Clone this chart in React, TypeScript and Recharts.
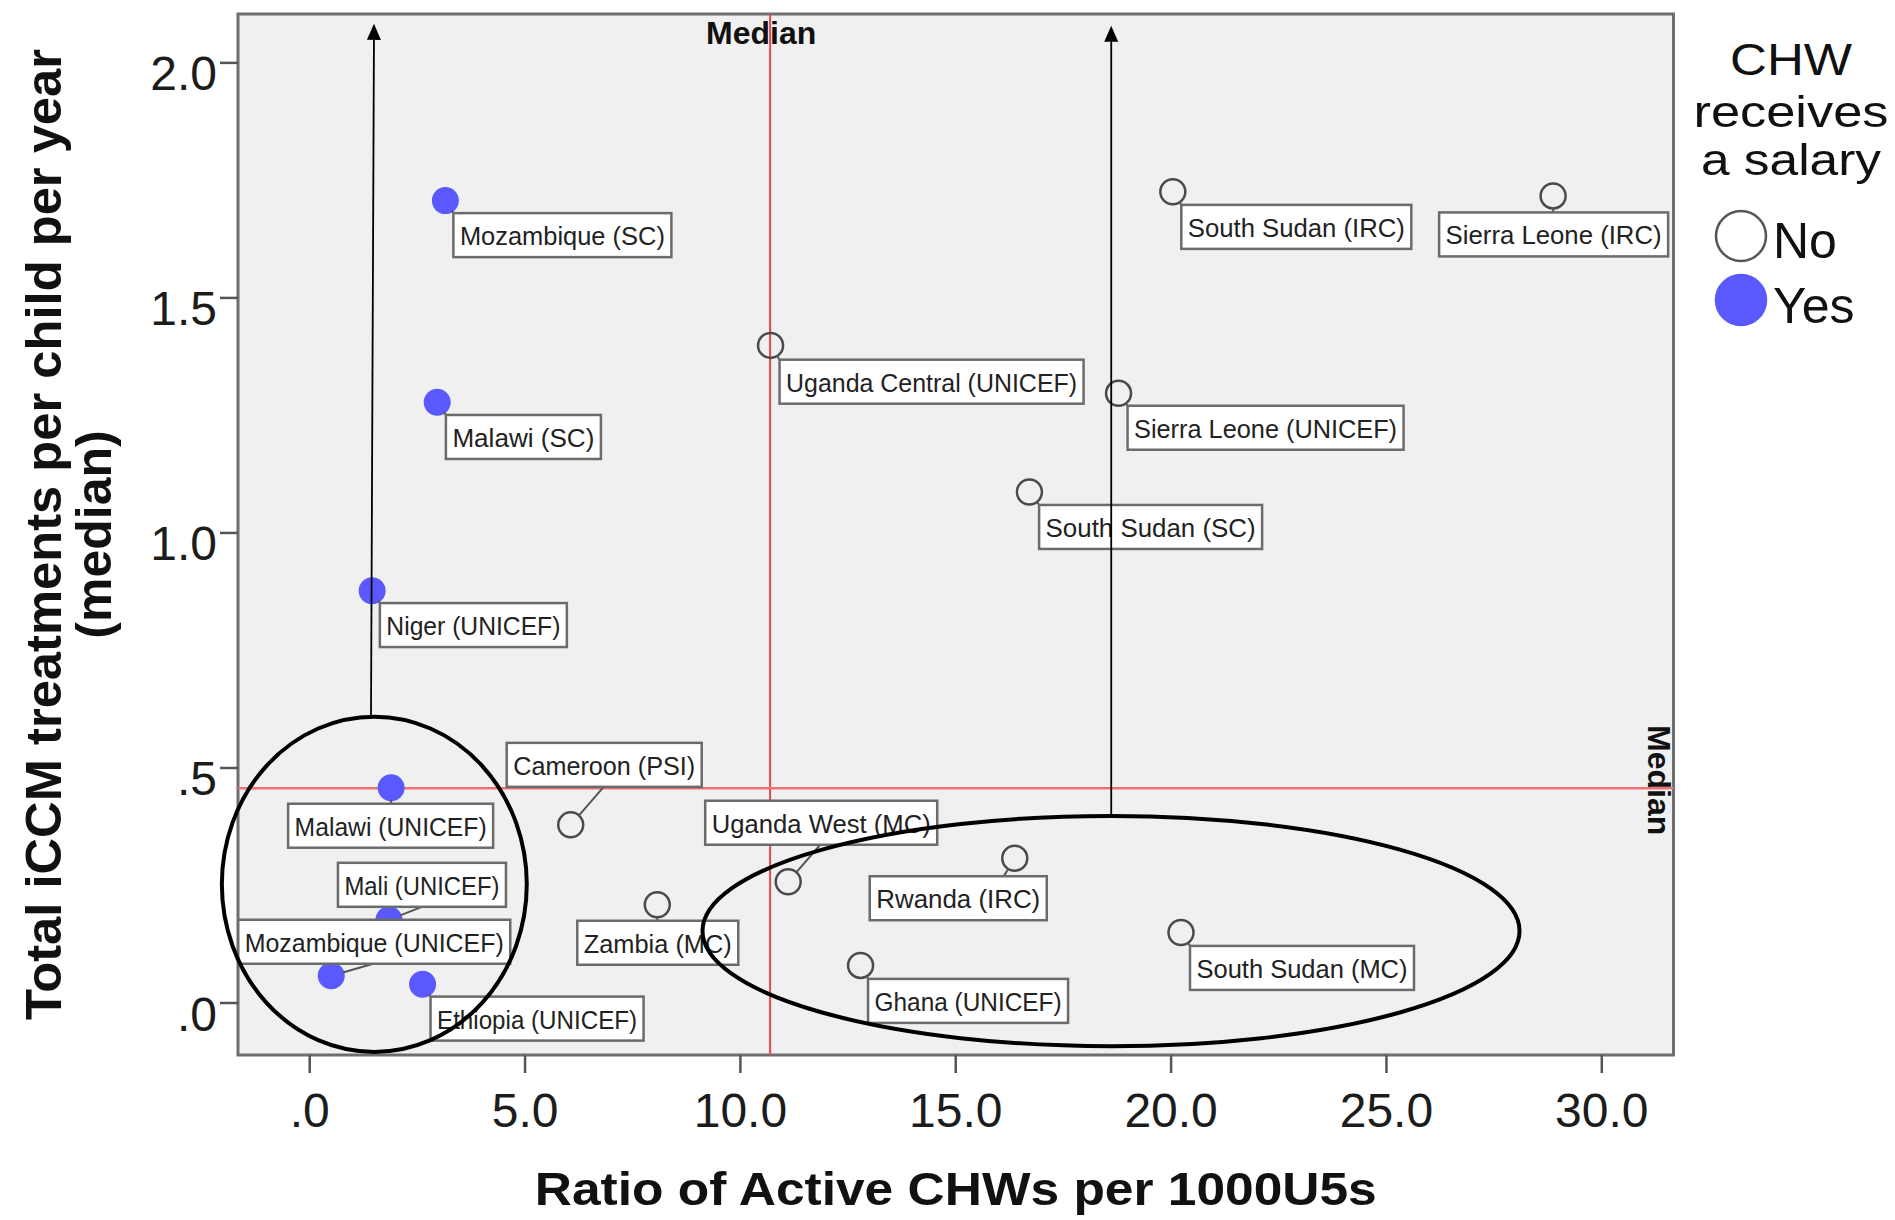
import React from "react";
import {
  CartesianGrid,
  Legend,
  ReferenceArea,
  ReferenceLine,
  Scatter,
  ScatterChart,
  XAxis,
  YAxis,
} from "recharts";

const FONT = '"Liberation Sans", Arial, Helvetica, sans-serif';

// programme = country + implementing partner
const programmes = [
  "Mozambique (SC)",
  "Malawi (SC)",
  "Niger (UNICEF)",
  "Malawi (UNICEF)",
  "Mali (UNICEF)",
  "Mozambique (UNICEF)",
  "Ethiopia (UNICEF)",
  "Cameroon (PSI)",
  "Zambia (MC)",
  "Uganda West (MC)",
  "Ghana (UNICEF)",
  "Rwanda (IRC)",
  "South Sudan (MC)",
  "Uganda Central (UNICEF)",
  "Sierra Leone (UNICEF)",
  "South Sudan (SC)",
  "South Sudan (IRC)",
  "Sierra Leone (IRC)",
];
const activeChwsPer1000U5 = [
  3.15, 2.96, 1.45, 1.89, 1.84, 0.5, 2.62, 6.06, 8.07, 11.11, 12.79, 16.37,
  20.23, 10.7, 18.78, 16.71, 20.04, 28.87,
];
const treatmentsPerChild = [
  1.707, 1.278, 0.877, 0.458, 0.177, 0.058, 0.04, 0.379, 0.209, 0.258, 0.08,
  0.308, 0.15, 1.399, 1.297, 1.087, 1.726, 1.717,
];
const receivesSalary = [
  true, true, true, true, true, true, true, false, false, false, false, false,
  false, false, false, false, false, false,
];

const medianRatio = 10.69;
const medianTreatments = 0.457;

const xTicks = [0, 5, 10, 15, 20, 25, 30];
const yTicks = [0, 0.5, 1, 1.5, 2];
const xDomain = [-1.665, 31.665];
const yDomain = [-0.1106, 2.104];

const legendTitle = ["CHW", "receives", "a salary"];

// hand-drawn annotations, in data units
const lowRatioCluster = { x1: -2.04, x2: 5.04, y1: -0.104, y2: 0.609 };
const highRatioCluster = { x1: 9.12, x2: 28.09, y1: -0.092, y2: 0.398 };
const lowRatioArrow = [
  { x: 1.423, y: 0.609 },
  { x: 1.493, y: 2.083 },
];
const highRatioArrow = [
  { x: 18.61, y: 0.398 },
  { x: 18.61, y: 2.079 },
];

// label box placement relative to its point (px): box offset, width, leader end
const labelLayout: Record<string, any> = {
  "Mozambique (SC)": { dx: 8, dy: 12.5, w: 218 },
  "Malawi (SC)": { dx: 8.7, dy: 12.7, w: 155 },
  "Niger (UNICEF)": { dx: 7.7, dy: 12.3, w: 187 },
  "Malawi (UNICEF)": { dx: -103, dy: 16, w: 205, ax: 0, ay: 16 },
  "Mali (UNICEF)": { dx: -51, dy: -57, w: 168, ax: 33, ay: -13 },
  "Mozambique (UNICEF)": { dx: -93, dy: -56, w: 272, ax: 42, ay: -12 },
  "Ethiopia (UNICEF)": { dx: 8, dy: 12.4, w: 213 },
  "Cameroon (PSI)": { dx: -64, dy: -82, w: 195, ax: 33, ay: -38 },
  "Zambia (MC)": { dx: -80, dy: 16, w: 161, ax: 0, ay: 16 },
  "Uganda West (MC)": { dx: -83, dy: -81, w: 232, ax: 32, ay: -37 },
  "Ghana (UNICEF)": { dx: 7.5, dy: 13.5, w: 200 },
  "Rwanda (IRC)": { dx: -145, dy: 18, w: 177, ax: -11, ay: 18 },
  "South Sudan (MC)": { dx: 9, dy: 13.4, w: 224 },
  "Uganda Central (UNICEF)": { dx: 9, dy: 14.3, w: 304 },
  "Sierra Leone (UNICEF)": { dx: 9, dy: 12.4, w: 276 },
  "South Sudan (SC)": { dx: 9.7, dy: 12.9, w: 223 },
  "South Sudan (IRC)": { dx: 8.5, dy: 13.2, w: 230 },
  "Sierra Leone (IRC)": { dx: -114, dy: 16.5, w: 229, ax: 0, ay: 16.5 },
};

const BLUE = "#5959ff";

const points = programmes.map((name, i) => ({
  name,
  x: activeChwsPer1000U5[i],
  y: treatmentsPerChild[i],
  salary: receivesSalary[i],
}));
const unpaid = points.filter((p) => !p.salary);
const paid = points.filter((p) => p.salary);

const fmt = (v: number) => v.toFixed(1).replace(/^0\./, ".");

const OpenCircle = (p: any) => (
  <circle cx={p.cx} cy={p.cy} r={12.5} fill="none" stroke="#4a4a4a" strokeWidth={2.5} />
);
const FilledCircle = (p: any) => <circle cx={p.cx} cy={p.cy} r={13.5} fill={BLUE} />;

const ProgrammeLabel = (p: any) => {
  const { cx, cy, payload } = p;
  const L = labelLayout[payload?.name];
  if (!L || cx == null) return <g />;
  const bx = cx + L.dx;
  const by = cy + L.dy;
  const ax = cx + (L.ax ?? L.dx);
  const ay = cy + (L.ay ?? L.dy);
  const len = Math.hypot(ax - cx, ay - cy);
  const r = 12;
  const sx = cx + ((ax - cx) / len) * r;
  const sy = cy + ((ay - cy) / len) * r;
  return (
    <g>
      {len > r && <line x1={sx} y1={sy} x2={ax} y2={ay} stroke="#555" strokeWidth={2} />}
      <rect x={bx} y={by} width={L.w} height={44} fill="#fff" stroke="#6b6b6b" strokeWidth={2.5} />
      <text
        x={bx + 6.5}
        y={by + 32}
        fontSize={26}
        fontFamily={FONT}
        fill="#222"
        textLength={L.w - 13}
        lengthAdjust="spacingAndGlyphs"
      >
        {payload.name}
      </text>
    </g>
  );
};

const EllipseShape = (p: any) => (
  <ellipse
    cx={p.x + p.width / 2}
    cy={p.y + p.height / 2}
    rx={Math.abs(p.width) / 2}
    ry={Math.abs(p.height) / 2}
    fill="none"
    stroke="#000"
    strokeWidth={4}
  />
);

const ArrowShape = (p: any) => {
  let { x1, y1, x2, y2 } = p;
  if (y1 < y2) {
    [x1, y1, x2, y2] = [x2, y2, x1, y1];
  }
  const len = Math.hypot(x2 - x1, y2 - y1) || 1;
  const ux = (x2 - x1) / len;
  const uy = (y2 - y1) / len;
  const bx = x2 - ux * 16;
  const by = y2 - uy * 16;
  const nx = -uy * 7;
  const ny = ux * 7;
  return (
    <g>
      <line x1={x1} y1={y1} x2={bx} y2={by} stroke="#000" strokeWidth={1.8} />
      <polygon points={`${x2},${y2} ${bx + nx},${by + ny} ${bx - nx},${by - ny}`} fill="#000" />
    </g>
  );
};

const XTick = (p: any) => (
  <text x={p.x} y={p.y + 52} textAnchor="middle" fontSize={48} fontFamily={FONT} fill="#1c1c1c">
    {fmt(p.payload.value)}
  </text>
);
const YTick = (p: any) => (
  <text x={p.x - 1} y={p.y + 27.5} textAnchor="end" fontSize={48} fontFamily={FONT} fill="#1c1c1c">
    {fmt(p.payload.value)}
  </text>
);

const XTitle = (p: any) => {
  const vb = p.viewBox;
  return (
    <text
      x={vb.x + vb.width / 2}
      y={vb.y + 150}
      textAnchor="middle"
      fontSize={46}
      fontWeight="bold"
      fontFamily={FONT}
      fill="#111"
      textLength={842}
      lengthAdjust="spacingAndGlyphs"
    >
      Ratio of Active CHWs per 1000U5s
    </text>
  );
};

const YTitle = (p: any) => {
  const vb = p.viewBox;
  const cy = vb.y + vb.height / 2;
  return (
    <g fontFamily={FONT} fontWeight="bold" fontSize={50} fill="#111">
      <text x={61} y={cy} textAnchor="middle" transform={`rotate(-90, 61, ${cy})`} textLength={971} lengthAdjust="spacingAndGlyphs">
        Total iCCM treatments per child per year
      </text>
      <text x={111} y={cy} textAnchor="middle" transform={`rotate(-90, 111, ${cy})`}>
        (median)
      </text>
    </g>
  );
};

const MedianTop = (p: any) => {
  const vb = p.viewBox;
  const top = Math.min(vb.y, vb.y + (vb.height || 0));
  return (
    <text x={vb.x - 9} y={top + 30} textAnchor="middle" fontSize={32} fontWeight="bold" fontFamily={FONT} fill="#111">
      Median
    </text>
  );
};

const MedianRight = (p: any) => {
  const vb = p.viewBox;
  const right = Math.max(vb.x, vb.x + (vb.width || 0));
  const x = right - 26;
  const y = vb.y - 8;
  return (
    <text
      x={x}
      y={y}
      textAnchor="middle"
      transform={`rotate(90, ${x}, ${y})`}
      fontSize={32}
      fontWeight="bold"
      fontFamily={FONT}
      fill="#111"
    >
      Median
    </text>
  );
};

const titleWidths = [122, 195, 180];
const titleBaselines = [75, 127, 175];

const SalaryLegend = (props: any) => {
  const items = (props.payload || []).filter((e: any) => e.type !== "none");
  return (
    <svg width={215} height={360} style={{ display: "block" }} fontFamily={FONT}>
      {legendTitle.map((line, i) => (
        <text
          key={line}
          x={111}
          y={titleBaselines[i]}
          textAnchor="middle"
          fontSize={45}
          fill="#111"
          textLength={titleWidths[i]}
          lengthAdjust="spacingAndGlyphs"
        >
          {line}
        </text>
      ))}
      {items.map((e: any, i: number) => (
        <g key={e.value}>
          <circle
            cx={61}
            cy={236 + i * 64}
            r={25}
            fill={e.value === "Yes" ? BLUE : "#fff"}
            stroke={e.value === "Yes" ? BLUE : "#555"}
            strokeWidth={2.5}
          />
          <text x={93} y={258 + i * 65} fontSize={50} fill="#111">
            {e.value}
          </text>
        </g>
      ))}
    </svg>
  );
};

export default function App() {
  return (
    <div style={{ position: "absolute", left: 0, top: 0, width: 1895, height: 1220, background: "#fff", fontFamily: FONT }}>
      <ScatterChart width={1895} height={1220} margin={{ top: 14, right: 221.5, bottom: 65, left: 0 }}>
        <CartesianGrid horizontal={false} vertical={false} fill="#f0f0f0" />
        <XAxis
          type="number"
          dataKey="x"
          domain={xDomain}
          allowDataOverflow
          ticks={xTicks}
          height={100}
          tickSize={18}
          tickMargin={2}
          axisLine={false}
          tickLine={{ stroke: "#555", strokeWidth: 2.5 }}
          tick={<XTick />}
          label={XTitle}
        />
        <YAxis
          type="number"
          dataKey="y"
          domain={yDomain}
          allowDataOverflow
          ticks={yTicks}
          width={238}
          tickSize={18}
          tickMargin={2}
          axisLine={false}
          tickLine={{ stroke: "#555", strokeWidth: 2.5 }}
          tick={<YTick />}
          label={YTitle}
        />
        <ReferenceArea
          x1={xDomain[0]}
          x2={xDomain[1]}
          y1={yDomain[0]}
          y2={yDomain[1]}
          fill="none"
          stroke="#6e6e6e"
          strokeWidth={3}
          ifOverflow="visible"
          zIndex={-50}
        />
        <ReferenceLine x={medianRatio} stroke="#e4474c" strokeWidth={2} label={MedianTop} zIndex={50} />
        <ReferenceLine y={medianTreatments} stroke="#ee7272" strokeWidth={2.5} label={MedianRight} zIndex={50} />
        <Scatter name="No" data={unpaid} fill="#ffffff" shape={OpenCircle} isAnimationActive={false} />
        <Scatter name="Yes" data={paid} fill={BLUE} shape={FilledCircle} isAnimationActive={false} />
        <Scatter
          name="labels"
          data={points}
          legendType="none"
          shape={ProgrammeLabel}
          isAnimationActive={false}
          zIndex={650}
        />
        <ReferenceArea {...lowRatioCluster} ifOverflow="visible" shape={EllipseShape} zIndex={900} />
        <ReferenceArea {...highRatioCluster} ifOverflow="visible" shape={EllipseShape} zIndex={900} />
        <ReferenceLine segment={lowRatioArrow} shape={ArrowShape} zIndex={900} />
        <ReferenceLine segment={highRatioArrow} shape={ArrowShape} zIndex={900} />
        <Legend
          layout="vertical"
          align="center"
          verticalAlign="middle"
          wrapperStyle={{ left: 1680, top: 0, width: 215, height: 360 }}
          content={SalaryLegend}
        />
      </ScatterChart>
    </div>
  );
}
